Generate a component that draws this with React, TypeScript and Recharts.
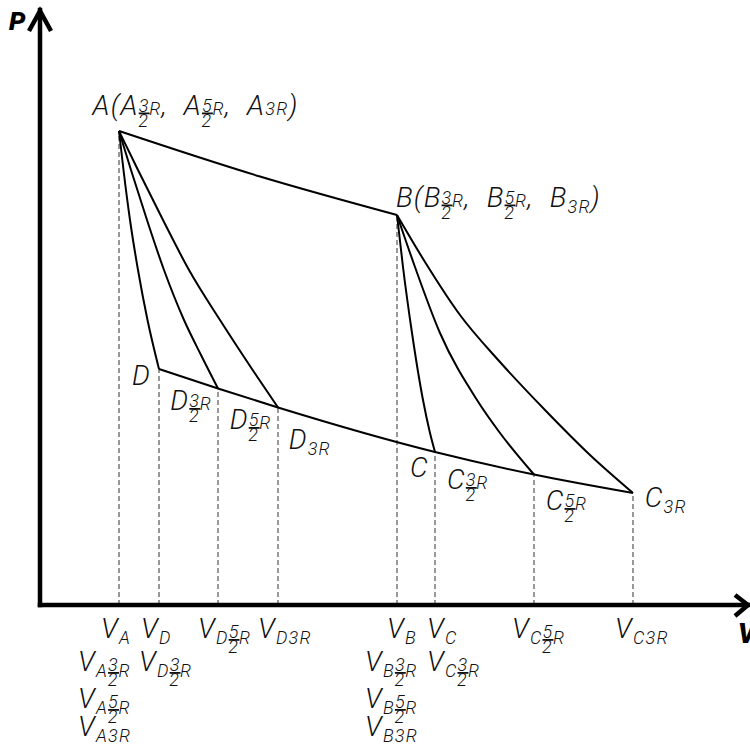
import { ComposedChart, Line, XAxis, YAxis, ReferenceLine, ReferenceDot } from 'recharts';

const WIDTH = 750;
const HEIGHT = 753;
const MARGIN = { top: 10, right: 0, bottom: 0, left: 0 };
const Y_AXIS_W = 40;
const X_AXIS_H = 148;
const AXIS_Y = HEIGHT - X_AXIS_H - MARGIN.bottom;
const V_MAX = 71;
const P_MAX = 59.5;

const FONT = "Roboto, 'Liberation Sans', sans-serif";
const MAIN = 28;
const SMALL = 18;
const LS = 1.2; // letter spacing
const DIGIT = 0.5615; // digit advance (em) used to stack fractions

// upper isotherm A -> B
const isothermAB = [
  { v: 7.9, p: 47.4 },
  { v: 22.0, p: 42.85 },
  { v: 35.7, p: 39.0 },
];

// lower isotherm D ... C3R
const isothermDC = [
  { v: 11.9, p: 23.6 },
  { v: 17.8, p: 21.65 },
  { v: 23.8, p: 19.75 },
  { v: 39.5, p: 15.3 },
  { v: 49.4, p: 13.05 },
  { v: 59.3, p: 11.2 },
];

// adiabats out of A
const adiabatA1 = [
  { v: 7.9, p: 47.4 },
  { v: 8.35, p: 43.5 },
  { v: 9.0, p: 38.5 },
  { v: 9.8, p: 33.5 },
  { v: 10.75, p: 28.5 },
  { v: 11.9, p: 23.6 },
];
const adiabatA2 = [
  { v: 7.9, p: 47.4 },
  { v: 9.1, p: 43.5 },
  { v: 10.7, p: 38.5 },
  { v: 12.4, p: 33.5 },
  { v: 14.4, p: 28.5 },
  { v: 16.1, p: 25.0 },
  { v: 17.8, p: 21.65 },
];
const adiabatA3 = [
  { v: 7.9, p: 47.4 },
  { v: 9.8, p: 43.5 },
  { v: 12.3, p: 38.5 },
  { v: 14.9, p: 33.5 },
  { v: 18.0, p: 28.5 },
  { v: 21.2, p: 23.6 },
  { v: 23.8, p: 19.75 },
];

// adiabats out of B
const adiabatB1 = [
  { v: 35.7, p: 39.0 },
  { v: 36.3, p: 33.8 },
  { v: 37.2, p: 27.2 },
  { v: 38.3, p: 20.5 },
  { v: 39.0, p: 17.2 },
  { v: 39.5, p: 15.3 },
];
const adiabatB2 = [
  { v: 35.7, p: 39.0 },
  { v: 37.5, p: 33.8 },
  { v: 40.0, p: 27.2 },
  { v: 43.7, p: 20.5 },
  { v: 46.0, p: 17.2 },
  { v: 49.4, p: 13.05 },
];
const adiabatB3 = [
  { v: 35.7, p: 39.0 },
  { v: 38.5, p: 34.3 },
  { v: 42.0, p: 29.0 },
  { v: 46.0, p: 24.3 },
  { v: 50.5, p: 19.5 },
  { v: 55.0, p: 15.0 },
  { v: 59.3, p: 11.2 },
];

const A = isothermAB[0];
const B = isothermAB[isothermAB.length - 1];
const [D, D32, D52, C, C52, C3R] = isothermDC;

// state points that get a dashed drop line, left to right
const statePoints = [A, D, D32, D52, B, C, C52, C3R];
const volumeTicks = statePoints.map((pt) => pt.v);

// markup: _{..} subscript, ~{..} small on baseline, {n/d} fraction
const volumeLabels: string[][] = [
  ['V_{A}', 'V_{A}_{3/2}_{R}', 'V_{A}_{5/2}_{R}', 'V_{A3R}'],
  ['V_{D}', 'V_{D}_{3/2}_{R}'],
  ['V_{D}_{5/2}_{R}'],
  ['V_{D3R}'],
  ['V_{B}', 'V_{B}_{3/2}_{R}', 'V_{B}_{5/2}_{R}', 'V_{B3R}'],
  ['V_{C}', 'V_{C}_{3/2}_{R}'],
  ['V_{C}_{5/2}_{R}'],
  ['V_{C3R}'],
];

const stateLabels = [
  'A(A{3/2}~{R},  A{5/2}~{R},  A~{3R})',
  'B(B{3/2}~{R},  B{5/2}~{R},  B_{3R})',
  'D',
  'D{3/2}~{R}',
  'D{5/2}~{R}',
  'D_{3R}',
  'C',
  'C{3/2}~{R}',
  'C{5/2}~{R}',
  'C_{3R}',
];
const stateLabelAnchors = [A, B, D, D32, D52, D52, C, C, C52, C3R];

// text placement (px), kept apart from the data
const stateLabelOffsets = [
  [-26.5, -16.5],
  [-1, -8.5],
  [-27, 16],
  [-47.7, 21.5],
  [-48.3, 21.5],
  [10.7, 41.5],
  [-25, 25],
  [12, 37],
  [11.7, 35.5],
  [11.7, 13.7],
];
const tickRowDx = [
  [-18, -41],
  [-18, -20],
  [-20],
  [-20],
  [-10, -32],
  [-8, -8],
  [-22],
  [-18],
];
const tickRowBaseline = [33, 66, 103, 131];

type Piece =
  | { kind: 'text'; text: string; small: boolean; rise: number }
  | { kind: 'frac'; num: string; den: string; rise: number };

function parseRich(src: string): Piece[] {
  const out: Piece[] = [];
  let buf = '';
  const flush = () => {
    if (buf) out.push({ kind: 'text', text: buf, small: false, rise: 0 });
    buf = '';
  };
  let i = 0;
  while (i < src.length) {
    const c = src[i];
    const prefixed = (c === '_' || c === '~') && src[i + 1] === '{';
    if (prefixed || c === '{') {
      flush();
      const start = prefixed ? i + 2 : i + 1;
      const end = src.indexOf('}', start);
      const body = src.slice(start, end);
      if (body.includes('/')) {
        const [num, den] = body.split('/');
        out.push({ kind: 'frac', num, den, rise: c === '_' ? 3 : 0 });
      } else {
        out.push({ kind: 'text', text: body, small: true, rise: c === '_' ? 6 : 0 });
      }
      i = end + 1;
    } else {
      buf += c;
      i++;
    }
  }
  flush();
  return out;
}

function RichText({ x, y, src }: { x: number; y: number; src: string }) {
  let cur = 0;
  const spans: any[] = [];
  parseRich(src).forEach((pc, k) => {
    if (pc.kind === 'text') {
      spans.push(
        <tspan key={k} fontSize={pc.small ? SMALL : MAIN} dy={pc.rise - cur}>
          {pc.text}
        </tspan>
      );
      cur = pc.rise;
    } else {
      const nb = pc.rise - 3;
      const db = pc.rise + 12;
      spans.push(
        <tspan key={k + 'n'} fontSize={SMALL} dy={nb - cur} style={{ textDecoration: 'underline' }}>
          {pc.num}
        </tspan>
      );
      spans.push(
        <tspan key={k + 'd'} fontSize={SMALL} dx={-(DIGIT * SMALL + LS)} dy={db - nb}>
          {pc.den}
        </tspan>
      );
      cur = db;
    }
  });
  return (
    <text
      x={x}
      y={y}
      fontFamily={FONT}
      fontStyle="italic"
      fontWeight={300}
      fill="#111"
      style={{ whiteSpace: 'pre', letterSpacing: LS }}
    >
      {spans}
    </text>
  );
}

function VolumeTick(props: any) {
  const { x, payload } = props;
  const idx = volumeTicks.indexOf(payload.value);
  if (idx < 0) return null;
  const rows = volumeLabels[idx];
  return (
    <g>
      {rows.map((src, r) => (
        <RichText
          key={r}
          x={x + tickRowDx[idx][Math.min(r, 1)]}
          y={AXIS_Y + tickRowBaseline[r]}
          src={src}
        />
      ))}
    </g>
  );
}

export default function App() {
  return (
    <div style={{ position: 'absolute', left: 0, top: 0, background: '#fff' }}>
      <ComposedChart width={WIDTH} height={HEIGHT} margin={MARGIN}>
        <XAxis
          dataKey="v"
          type="number"
          domain={[0, V_MAX]}
          ticks={volumeTicks}
          interval={0}
          height={X_AXIS_H}
          tickLine={false}
          axisLine={{ stroke: '#000', strokeWidth: 4.5, strokeLinecap: 'square' }}
          tick={(p: any) => <VolumeTick {...p} />}
        />
        <YAxis
          dataKey="p"
          type="number"
          domain={[0, P_MAX]}
          width={Y_AXIS_W}
          tick={false}
          tickLine={false}
          axisLine={{ stroke: '#000', strokeWidth: 4.5, strokeLinecap: 'square' }}
        />

        {statePoints.map((pt, i) => (
          <ReferenceLine
            key={'drop' + i}
            segment={[
              { x: pt.v, y: 0 },
              { x: pt.v, y: pt.p },
            ]}
            stroke="#555"
            strokeWidth={1.2}
            strokeDasharray="5 3"
          />
        ))}

        {[isothermAB, isothermDC, adiabatA1, adiabatA2, adiabatA3, adiabatB1, adiabatB2, adiabatB3].map(
          (series, i) => (
            <Line
              key={'curve' + i}
              data={series}
              dataKey="p"
              type="monotone"
              stroke="#000"
              strokeWidth={2}
              dot={false}
              activeDot={false}
              isAnimationActive={false}
            />
          )
        )}

        {stateLabels.map((src, i) => (
          <ReferenceDot
            key={'lbl' + i}
            x={stateLabelAnchors[i].v}
            y={stateLabelAnchors[i].p}
            r={0}
            ifOverflow="visible"
            shape={(p: any) => (
              <RichText x={p.cx + stateLabelOffsets[i][0]} y={p.cy + stateLabelOffsets[i][1]} src={src} />
            )}
          />
        ))}

        {/* axis arrows and names */}
        <ReferenceDot
          x={0}
          y={P_MAX}
          r={0}
          ifOverflow="visible"
          shape={(p: any) => (
            <g>
              <path
                d={`M${p.cx - 11},${p.cy + 21} L${p.cx},${p.cy + 1} L${p.cx + 11},${p.cy + 21}`}
                stroke="#000"
                strokeWidth={4.5}
                fill="none"
              />
              <text x={p.cx - 31} y={p.cy + 20} fontFamily={FONT} fontStyle="italic" fontWeight={900} fontSize={26}>
                P
              </text>
            </g>
          )}
        />
        <ReferenceDot
          x={V_MAX}
          y={0}
          r={0}
          ifOverflow="visible"
          shape={(p: any) => (
            <g>
              <path
                d={`M${p.cx - 15},${p.cy - 10} L${p.cx - 2},${p.cy} L${p.cx - 15},${p.cy + 11}`}
                stroke="#000"
                strokeWidth={4.5}
                fill="none"
              />
              <text x={p.cx - 12} y={p.cy + 38} fontFamily={FONT} fontStyle="italic" fontWeight={900} fontSize={27}>
                V
              </text>
            </g>
          )}
        />
      </ComposedChart>
    </div>
  );
}
